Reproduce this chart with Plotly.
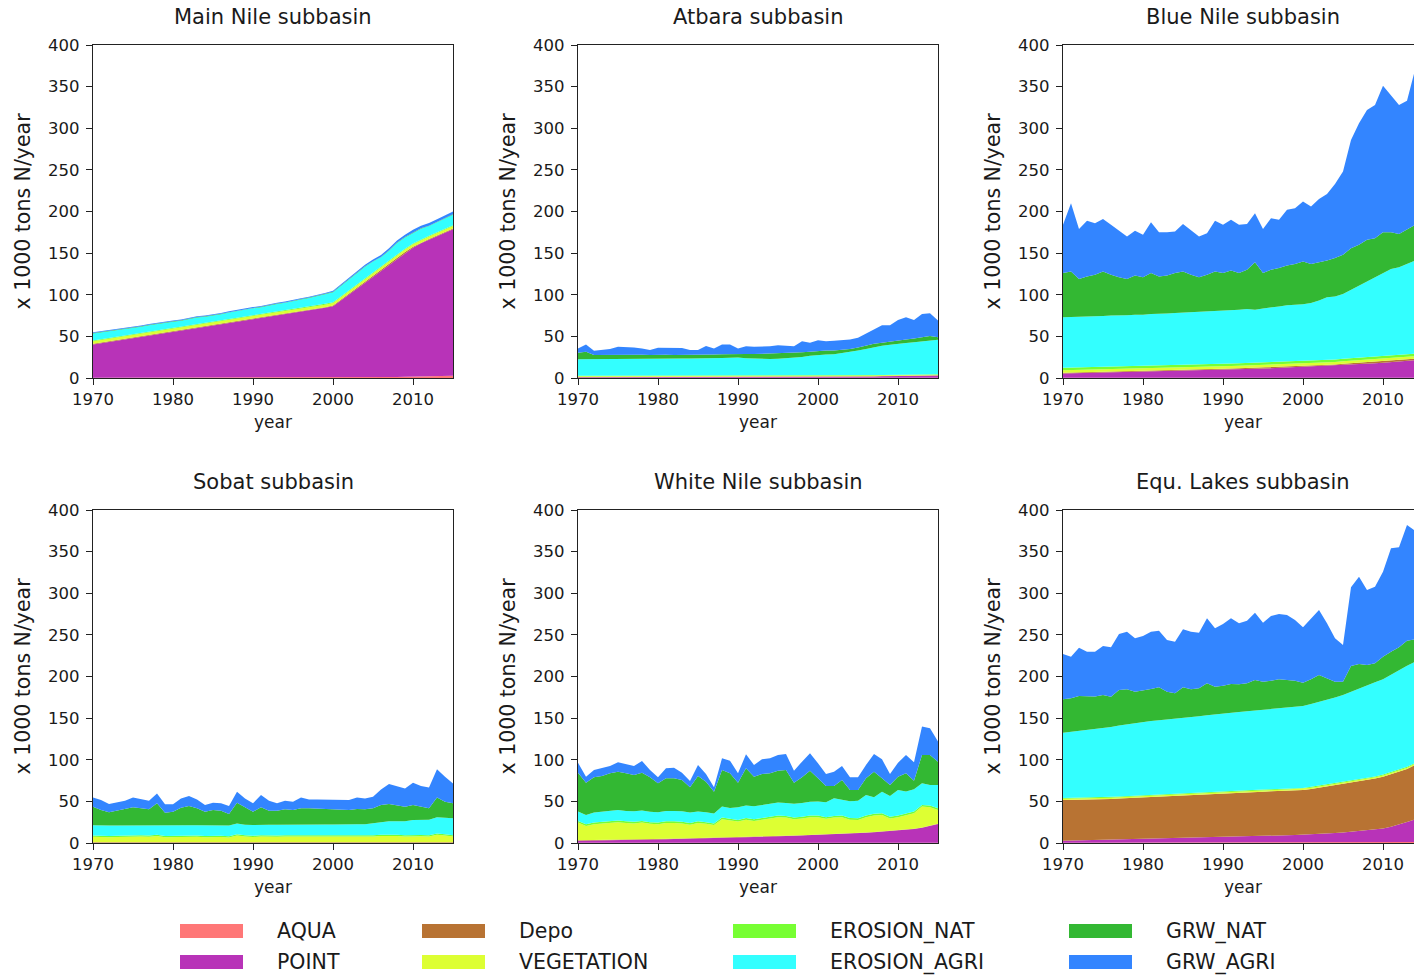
import plotly.graph_objects as go

YEARS = list(range(1970, 2016))
LAYERS = ["AQUA", "POINT", "Depo", "VEGETATION", "EROSION_NAT", "EROSION_AGRI", "GRW_NAT", "GRW_AGRI"]
COLORS = ["#ff7777", "#b833b8", "#b87333", "#ddff33", "#77ff33", "#33ffff", "#33b833", "#3385ff"]
TITLES = ["Main Nile subbasin", "Atbara subbasin", "Blue Nile subbasin",
          "Sobat subbasin", "White Nile subbasin", "Equ. Lakes subbasin"]
Y_TICKS = [0, 50, 100, 150, 200, 250, 300, 350, 400]
X_TICKS = [1970, 1980, 1990, 2000, 2010]

# ---------------- Main Nile ----------------
MN_AQUA = [0.3, 0.3, 0.3, 0.3, 0.3, 0.3, 0.3, 0.3, 0.3, 0.3, 0.3, 0.3, 0.3, 0.3, 0.3, 0.3, 0.3, 0.3, 0.3, 0.3,
           0.3, 0.3, 0.3, 0.3, 0.3, 0.3, 0.3, 0.3, 0.3, 0.3, 0.3, 0.4, 0.5, 0.6, 0.7, 0.8, 0.9, 1.0, 1.2, 1.4,
           1.6, 1.8, 2.0, 2.2, 2.4, 2.6]
MN_POINT = [40, 41.5, 43, 44.5, 46, 47.5, 49, 50.5, 52, 53.5, 55, 56.5, 58, 59.5, 61, 62.5, 64, 65.5, 67, 68.5,
            70, 71.5, 73, 74.5, 76, 77.5, 79, 80.5, 82, 84, 86, 93, 100, 107, 114, 121, 128, 135, 142, 149,
            155, 160, 164, 168, 172, 176]
MN_DEPO = [0.8, 0.8, 0.8, 0.8, 0.8, 0.8, 0.8, 0.8, 0.8, 0.8, 0.8, 0.8, 0.8, 0.8, 0.8, 0.8, 0.8, 0.8, 0.8, 0.8,
           0.8, 0.8, 0.8, 0.8, 0.8, 0.8, 0.8, 0.8, 0.8, 0.8, 0.8, 0.9, 0.9, 0.9, 0.9, 1.0, 1.0, 1.0, 1.0, 1.0,
           1.0, 1.0, 1.0, 1.0, 1.0, 1.0]
MN_VEG = [3.0, 3.0, 3.0, 3.0, 3.0, 3.0, 3.0, 3.0, 3.0, 3.0, 3.0, 3.0, 3.0, 3.0, 3.0, 3.0, 3.0, 3.0, 3.0, 3.0,
          3.0, 3.0, 3.0, 3.0, 3.0, 3.0, 3.0, 3.0, 3.0, 3.0, 3.0, 3.0, 3.0, 3.0, 3.0, 3.0, 3.0, 3.0, 3.0, 3.0,
          3.0, 3.0, 3.0, 3.0, 3.0, 3.0]
MN_ENAT = [1.0, 1.0, 1.0, 1.0, 1.0, 1.0, 1.0, 1.0, 1.0, 1.0, 1.0, 1.0, 1.0, 1.0, 1.0, 1.0, 1.0, 1.0, 1.0, 1.0,
           1.0, 1.0, 1.0, 1.0, 1.0, 1.0, 1.0, 1.0, 1.0, 1.0, 1.0, 1.0, 1.0, 1.0, 1.0, 1.0, 1.0, 1.0, 1.0, 1.0,
           1.0, 1.0, 1.0, 1.0, 1.0, 1.0]
MN_EAGRI = [8.5, 8.3, 8.0, 7.8, 7.5, 7.3, 7.5, 7.8, 8.0, 7.6, 7.5, 7.3, 7.8, 8.2, 7.5, 7.2, 7.6, 8.0, 8.4, 8.2,
            8.6, 8.4, 9.0, 9.4, 9.2, 10.0, 10.2, 10.5, 10.8, 11.5, 12.0, 12.5, 12.5, 13.5, 14.0, 13.0, 11.0, 12.0,
            14.0, 13.5, 13.0, 12.5, 11.5, 12.0, 12.5, 12.5]
MN_GNAT = [0.5, 0.5, 0.5, 0.5, 0.5, 0.5, 0.5, 0.5, 0.5, 0.5, 0.5, 0.5, 0.5, 0.5, 0.5, 0.5, 0.5, 0.5, 0.5, 0.5,
           0.5, 0.5, 0.5, 0.5, 0.5, 0.5, 0.5, 0.5, 0.5, 0.5, 0.5, 0.5, 0.5, 0.5, 0.5, 0.5, 0.5, 0.5, 0.5, 0.5,
           0.5, 0.5, 0.5, 0.5, 0.5, 0.5]
MN_GAGRI = [1.0, 1.0, 1.0, 1.0, 1.0, 1.0, 1.0, 1.0, 1.0, 1.0, 1.0, 1.0, 1.0, 1.0, 1.0, 1.0, 1.0, 1.0, 1.0, 1.0,
            1.0, 1.0, 1.0, 1.0, 1.0, 1.0, 1.0, 1.0, 1.0, 1.0, 1.2, 1.5, 1.5, 1.8, 2.0, 2.0, 2.2, 2.5, 2.5, 2.8,
            3.0, 3.0, 3.2, 3.0, 3.5, 3.5]

# ---------------- Atbara ----------------
AT_AQUA = [0.2, 0.2, 0.2, 0.2, 0.2, 0.2, 0.2, 0.2, 0.2, 0.2, 0.2, 0.2, 0.2, 0.2, 0.2, 0.2, 0.2, 0.2, 0.2, 0.2,
           0.2, 0.2, 0.2, 0.2, 0.2, 0.2, 0.2, 0.2, 0.2, 0.2, 0.2, 0.2, 0.2, 0.2, 0.2, 0.2, 0.2, 0.2, 0.2, 0.2,
           0.2, 0.2, 0.2, 0.2, 0.2, 0.2]
AT_POINT = [0.8, 0.8, 0.8, 0.8, 0.8, 0.8, 0.8, 0.8, 0.8, 0.8, 0.8, 0.8, 0.8, 0.8, 0.8, 0.8, 0.8, 0.8, 0.8, 0.8,
            1.0, 1.0, 1.0, 1.0, 1.0, 1.0, 1.0, 1.0, 1.0, 1.0, 1.0, 1.0, 1.0, 1.0, 1.0, 1.3, 1.5, 1.7, 1.9, 2.0,
            2.2, 2.3, 2.4, 2.5, 2.6, 2.7]
AT_DEPO = [0.3, 0.3, 0.3, 0.3, 0.3, 0.3, 0.3, 0.3, 0.3, 0.3, 0.3, 0.3, 0.3, 0.3, 0.3, 0.3, 0.3, 0.3, 0.3, 0.3,
           0.3, 0.3, 0.3, 0.3, 0.3, 0.3, 0.3, 0.3, 0.3, 0.3, 0.3, 0.3, 0.3, 0.3, 0.3, 0.3, 0.3, 0.3, 0.3, 0.3,
           0.3, 0.3, 0.3, 0.3, 0.3, 0.3]
AT_VEG = [0.8, 0.8, 0.8, 0.8, 0.8, 0.8, 0.8, 0.8, 0.8, 0.8, 0.8, 0.8, 0.8, 0.8, 0.8, 0.8, 0.8, 0.8, 0.8, 0.8,
          0.8, 0.8, 0.8, 0.8, 0.8, 0.8, 0.8, 0.8, 0.8, 0.8, 0.8, 0.8, 0.8, 0.8, 0.8, 0.8, 0.8, 0.8, 0.8, 0.8,
          0.8, 0.8, 0.8, 0.8, 0.8, 0.8]
AT_ENAT = [0.5, 0.5, 0.5, 0.5, 0.5, 0.5, 0.5, 0.5, 0.5, 0.5, 0.5, 0.5, 0.5, 0.5, 0.5, 0.5, 0.5, 0.5, 0.5, 0.5,
           0.5, 0.5, 0.5, 0.5, 0.5, 0.5, 0.5, 0.5, 0.5, 0.5, 0.5, 0.5, 0.5, 0.5, 0.5, 0.5, 0.5, 0.5, 0.5, 0.5,
           0.5, 0.5, 0.5, 0.5, 0.5, 0.5]
AT_EAGRI = [19.8, 19.8, 19.9, 20.0, 20.0, 20.2, 20.2, 20.3, 20.3, 20.4, 20.5, 20.5, 20.6, 20.7, 20.8, 20.8, 21.0,
            21.2, 21.5, 21.8, 21.8, 21.0, 20.5, 19.8, 19.9, 20.2, 20.8, 21.5, 22.5, 23.8, 25.0, 25.3, 25.8, 27.0,
            28.5, 30.0, 31.5, 33.5, 35.0, 36.0, 37.2, 38.0, 38.8, 39.8, 41.0, 41.3]
AT_GNAT = [8, 9, 5, 5, 5, 5.5, 5.5, 5.2, 5, 4.5, 4.8, 4.8, 4.5, 4.5, 4.2, 4.0, 4.5, 4.3, 4.5, 4.5,
           4.0, 5.0, 5.5, 6.5, 6.5, 6.2, 6.0, 5.5, 5.5, 5.0, 5.0, 5.0, 4.5, 4.0, 3.5, 3.5, 4.0, 4.0, 3.5, 4.0,
           4.0, 4.2, 4.5, 4.8, 5.0, 3.0]
AT_GAGRI = [5.1, 8.9, 5.2, 5.9, 7.1, 9.2, 9.2, 8.6, 7.6, 6.0, 8.4, 8.4, 7.8, 8.1, 5.9, 6.1, 10.2, 7.4, 11.7, 11.4,
            6.8, 9.4, 8.6, 8.3, 9.0, 10.2, 9.0, 8.4, 13.4, 10.6, 12.6, 11.1, 11.5, 11.6, 11.4, 11.8, 14.5, 17.2,
            21.3, 19.7, 24.5, 26.6, 22.3, 28.1, 27.5, 20.3]

# ---------------- Blue Nile ----------------
BN_AQUA = [0.3, 0.3, 0.3, 0.3, 0.3, 0.3, 0.3, 0.3, 0.3, 0.3, 0.3, 0.3, 0.3, 0.3, 0.3, 0.3, 0.3, 0.3, 0.3, 0.3,
           0.3, 0.3, 0.3, 0.3, 0.3, 0.3, 0.3, 0.3, 0.3, 0.3, 0.3, 0.3, 0.3, 0.3, 0.3, 0.3, 0.3, 0.3, 0.3, 0.3,
           0.3, 0.3, 0.3, 0.3, 0.3, 0.3]
BN_POINT = [5.0, 5.2, 5.4, 5.6, 5.8, 6.0, 6.2, 6.4, 6.6, 6.8, 7.0, 7.2, 7.4, 7.6, 7.8, 8.0, 8.3, 8.6, 8.9, 9.2,
            9.5, 9.8, 10.1, 10.4, 10.7, 11.0, 11.4, 11.8, 12.2, 12.6, 13.0, 13.4, 13.8, 14.2, 14.6, 15.0, 15.6,
            16.2, 16.8, 17.4, 18.0, 18.8, 19.6, 20.4, 21.2, 22.0]
BN_DEPO = [1.0, 1.0, 1.0, 1.0, 1.0, 1.0, 1.0, 1.0, 1.0, 1.0, 1.0, 1.0, 1.0, 1.0, 1.0, 1.0, 1.0, 1.0, 1.0, 1.0,
           1.3, 1.3, 1.3, 1.3, 1.3, 1.3, 1.3, 1.3, 1.3, 1.3, 1.3, 1.3, 1.3, 1.3, 1.3, 1.7, 1.7, 1.7, 1.7, 1.7,
           1.7, 1.7, 1.7, 1.7, 1.7, 1.7]
BN_VEG = [3.0, 3.0, 3.0, 3.0, 3.0, 3.0, 3.0, 3.0, 3.0, 3.0, 3.0, 3.0, 3.0, 3.0, 3.0, 3.0, 3.0, 3.0, 3.0, 3.0,
          3.0, 3.0, 3.0, 3.0, 3.0, 3.0, 3.0, 3.0, 3.0, 3.0, 3.0, 3.0, 3.0, 3.0, 3.0, 3.0, 3.0, 3.0, 3.0, 3.0,
          3.0, 3.0, 3.0, 3.0, 3.0, 3.0]
BN_ENAT = [3.0, 3.0, 3.0, 3.0, 3.0, 3.0, 3.0, 3.0, 3.0, 3.0, 3.0, 3.0, 3.0, 3.0, 3.0, 3.0, 3.0, 3.0, 3.0, 3.0,
           3.0, 3.0, 3.0, 3.0, 3.0, 3.0, 3.0, 3.0, 3.0, 3.0, 3.0, 3.0, 3.0, 3.0, 3.0, 3.0, 3.0, 3.0, 3.0, 3.0,
           3.0, 3.0, 3.0, 3.0, 3.0, 3.0]
BN_EAGRI = [60.7, 60.5, 60.8, 61.1, 60.9, 61.2, 61.5, 61.3, 61.6, 61.9, 61.7, 62.5, 62.3, 62.6, 62.9, 63.2, 62.9,
            63.1, 63.3, 63.5, 63.4, 63.6, 64.3, 65.0, 63.7, 64.9, 65.5, 66.6, 67.7, 67.8, 67.9, 69.0, 71.6, 75.2,
            75.8, 78.0, 82.4, 86.8, 91.2, 95.6, 101.0, 104.2, 105.4, 108.6, 111.8, 115.0]
BN_GNAT = [53, 55, 45.5, 48, 50, 53.5, 49, 46, 43.5, 47, 45, 49, 45, 45.5, 48, 49.5, 45.5, 42, 44.5, 48,
           45.5, 48, 44, 47, 57, 42.5, 45.5, 46, 47.5, 49, 51.5, 47, 46, 44, 46, 47, 50, 49, 50, 47,
           48, 44, 40, 42, 43, 41]
BN_GAGRI = [58, 82, 60, 67, 62, 63, 60, 56, 51, 54, 51, 61, 53, 52, 50, 57, 53, 49, 50, 61,
            58, 61, 58, 55, 59, 53, 62, 58, 67, 67, 72, 69, 76, 80, 89, 100, 130, 146, 156, 160,
            176, 165, 155, 154, 186, 174]

# ---------------- Sobat ----------------
SO_AQUA = [0.1, 0.1, 0.1, 0.1, 0.1, 0.1, 0.1, 0.1, 0.1, 0.1, 0.1, 0.1, 0.1, 0.1, 0.1, 0.1, 0.1, 0.1, 0.1, 0.1,
           0.1, 0.1, 0.1, 0.1, 0.1, 0.1, 0.1, 0.1, 0.1, 0.1, 0.1, 0.1, 0.1, 0.1, 0.1, 0.1, 0.1, 0.1, 0.1, 0.1,
           0.1, 0.1, 0.1, 0.1, 0.1, 0.1]
SO_POINT = [0.3, 0.3, 0.3, 0.3, 0.3, 0.3, 0.3, 0.3, 0.3, 0.3, 0.3, 0.3, 0.3, 0.3, 0.3, 0.3, 0.3, 0.3, 0.3, 0.3,
            0.3, 0.3, 0.3, 0.3, 0.3, 0.3, 0.3, 0.3, 0.3, 0.3, 0.3, 0.3, 0.3, 0.3, 0.3, 0.3, 0.3, 0.3, 0.3, 0.3,
            0.3, 0.3, 0.3, 0.3, 0.3, 0.3]
SO_DEPO = [0.5, 0.5, 0.5, 0.5, 0.5, 0.5, 0.5, 0.5, 0.5, 0.5, 0.5, 0.5, 0.5, 0.5, 0.5, 0.5, 0.5, 0.5, 0.5, 0.5,
           0.5, 0.5, 0.5, 0.5, 0.5, 0.5, 0.5, 0.5, 0.5, 0.5, 0.5, 0.5, 0.5, 0.5, 0.5, 0.5, 0.5, 0.5, 0.5, 0.5,
           0.5, 0.5, 0.5, 0.5, 0.5, 0.5]
SO_VEG = [6.5, 6.0, 6.0, 6.3, 6.5, 7.0, 6.8, 6.5, 7.5, 6.0, 6.2, 6.8, 7.0, 6.5, 6.0, 6.3, 6.2, 5.8, 8.0, 7.0,
          6.3, 7.0, 6.5, 6.5, 6.8, 6.5, 6.8, 6.8, 6.8, 6.8, 6.8, 6.5, 6.5, 6.8, 6.8, 7.0, 7.5, 7.8, 7.5, 7.0,
          7.5, 7.3, 7.0, 9.0, 8.0, 7.0]
SO_ENAT = [1.5, 1.5, 1.5, 1.5, 1.5, 1.5, 1.5, 1.5, 1.5, 1.5, 1.5, 1.5, 1.5, 1.5, 1.5, 1.5, 1.5, 1.5, 1.5, 1.5,
           1.5, 1.5, 1.5, 1.5, 1.5, 1.5, 1.5, 1.5, 1.5, 1.5, 1.5, 1.5, 1.5, 1.5, 1.5, 1.5, 1.5, 1.5, 1.5, 1.5,
           1.5, 1.5, 1.5, 1.5, 1.5, 1.5]
SO_EAGRI = [12.5, 12.6, 12.6, 12.4, 12.3, 12.0, 12.1, 12.4, 12.0, 12.8, 12.7, 12.2, 12.0, 12.5, 12.8, 12.6, 12.7,
            12.9, 13.1, 12.6, 13.0, 12.8, 13.0, 13.0, 12.9, 13.1, 13.0, 13.0, 13.1, 13.1, 13.1, 13.2, 13.3, 13.2,
            13.3, 14.2, 15.1, 15.8, 16.1, 16.6, 17.7, 18.3, 18.6, 19.6, 19.6, 20.2]
SO_GNAT = [22.2, 18.6, 15.8, 17.7, 19.2, 21.4, 20.3, 19.1, 25.7, 15.2, 16.3, 21.0, 23.0, 20.2, 16.4, 18.3, 17.5,
           13.7, 24.9, 20.8, 15.9, 20.6, 16.9, 16.9, 18.3, 17.6, 19.4, 19.4, 18.9, 18.5, 18.1, 17.5, 17.4, 18.4,
           17.9, 18.0, 20.6, 20.8, 19.6, 17.6, 18.0, 15.6, 13.6, 23.8, 19.6, 18.0]
SO_GAGRI = [11.2, 12.0, 10.0, 10.0, 10.4, 12.0, 10.8, 10.4, 12.0, 10.0, 8.8, 11.2, 12.0, 10.8, 8.0, 8.8, 8.8, 9.6,
            13.2, 10.8, 10.0, 14.8, 12.0, 8.8, 10.4, 10.0, 13.2, 10.8, 11.2, 11.6, 12.0, 12.0, 12.0, 14.0, 13.2,
            14.0, 18.8, 24.0, 22.8, 22.0, 26.8, 24.8, 25.2, 33.7, 30.1, 24.0]

# ---------------- White Nile ----------------
WN_AQUA = [0.2, 0.2, 0.2, 0.2, 0.2, 0.2, 0.2, 0.2, 0.2, 0.2, 0.2, 0.2, 0.2, 0.2, 0.2, 0.2, 0.2, 0.2, 0.2, 0.2,
           0.2, 0.2, 0.2, 0.2, 0.2, 0.2, 0.2, 0.2, 0.2, 0.2, 0.2, 0.2, 0.2, 0.2, 0.2, 0.2, 0.2, 0.2, 0.2, 0.2,
           0.2, 0.2, 0.2, 0.2, 0.2, 0.2]
WN_POINT = [2.5, 2.6, 2.8, 2.9, 3.0, 3.2, 3.4, 3.6, 3.8, 4.0, 4.2, 4.4, 4.6, 4.8, 5.0, 5.2, 5.4, 5.6, 5.8, 6.0,
            6.3, 6.6, 6.9, 7.2, 7.5, 7.8, 8.1, 8.4, 8.7, 9.0, 9.4, 9.8, 10.2, 10.6, 11.0, 11.5, 12.0, 12.6, 13.2,
            13.8, 14.5, 15.2, 16.5, 18.0, 20.0, 22.5]
WN_DEPO = [0.5, 0.5, 0.5, 0.5, 0.5, 0.5, 0.5, 0.5, 0.5, 0.5, 0.5, 0.5, 0.5, 0.5, 0.5, 0.5, 0.5, 0.5, 0.5, 0.5,
           0.5, 0.5, 0.5, 0.5, 0.5, 0.5, 0.5, 0.5, 0.5, 0.5, 0.5, 0.5, 0.5, 0.5, 0.5, 0.5, 0.5, 0.5, 0.5, 0.5,
           0.5, 0.5, 0.5, 0.5, 0.5, 0.5]
WN_VEG = [21.3, 17.2, 19.0, 19.9, 20.3, 21.0, 19.9, 19.2, 20.0, 18.3, 17.6, 18.9, 18.7, 18.0, 16.3, 18.1, 16.9,
          15.2, 22.0, 20.3, 18.7, 20.7, 18.9, 20.1, 20.8, 22.4, 21.7, 19.4, 20.1, 21.3, 20.8, 18.5, 19.6, 19.7,
          16.3, 15.5, 18.3, 19.7, 19.8, 15.0, 15.7, 17.1, 18.5, 25.0, 22.3, 16.5]
WN_ENAT = [2.0, 2.0, 2.0, 2.0, 2.0, 2.0, 2.0, 2.0, 2.0, 2.0, 2.0, 2.0, 2.0, 2.0, 2.0, 2.0, 2.0, 2.0, 2.0, 2.0,
           2.0, 2.0, 2.0, 2.0, 2.0, 2.0, 2.0, 2.0, 2.0, 2.0, 2.0, 2.0, 2.0, 2.0, 2.0, 2.0, 2.0, 2.0, 2.0, 2.0,
           2.0, 2.0, 2.0, 2.0, 2.0, 2.0]
WN_EAGRI = [11.2, 11.2, 12.0, 12.0, 12.5, 12.8, 12.5, 12.5, 12.5, 12.5, 12.5, 12.5, 12.5, 12.5, 12.5, 11.7, 12.0,
            12.0, 13.2, 13.0, 15.2, 15.0, 15.5, 15.5, 15.5, 15.6, 15.5, 16.5, 16.5, 16.5, 16.8, 18.0, 21.2, 19.0,
            20.0, 21.2, 24.7, 20.0, 26.0, 25.0, 30.8, 27.0, 26.8, 26.0, 24.7, 28.0]
WN_GNAT = [46.8, 38.8, 42.4, 43.0, 45.2, 46.0, 45.2, 43.7, 45.5, 41.4, 34.7, 39.2, 39.2, 37.7, 30.4, 42.8, 36.7,
           26.2, 44.0, 41.7, 29.6, 44.7, 35.7, 37.4, 37.2, 38.4, 39.7, 25.5, 30.9, 37.4, 28.0, 19.5, 14.8, 23.7,
           13.7, 12.8, 20.0, 30.7, 16.0, 13.2, 16.0, 21.7, 10.4, 34.0, 36.0, 28.0]
WN_GAGRI = [12.0, 7.2, 8.8, 9.2, 8.8, 11.2, 10.8, 10.8, 14.0, 8.8, 7.2, 12.0, 12.8, 8.8, 7.6, 13.2, 9.2, 5.2, 14.0,
            15.2, 11.2, 16.8, 14.0, 17.6, 18.0, 18.8, 19.2, 14.4, 18.8, 20.8, 18.0, 14.4, 17.2, 16.8, 15.2, 15.2,
            16.0, 21.2, 22.8, 13.2, 16.8, 22.0, 22.0, 34.1, 32.1, 24.1]

# ---------------- Equatorial Lakes ----------------
EL_AQUA = [0.3, 0.3, 0.3, 0.3, 0.3, 0.3, 0.3, 0.3, 0.3, 0.3, 0.3, 0.3, 0.3, 0.3, 0.3, 0.3, 0.3, 0.3, 0.3, 0.3,
           0.3, 0.3, 0.3, 0.3, 0.3, 0.3, 0.3, 0.3, 0.3, 0.3, 0.3, 0.3, 0.3, 0.3, 0.3, 0.3, 0.4, 0.5, 0.6, 0.7,
           0.8, 0.9, 1.0, 1.2, 1.3, 1.5]
EL_POINT = [2.5, 2.7, 2.9, 3.1, 3.3, 3.5, 3.7, 3.9, 4.1, 4.3, 4.5, 4.7, 4.9, 5.1, 5.3, 5.5, 5.7, 5.9, 6.1, 6.3,
            6.6, 6.9, 7.2, 7.5, 7.8, 8.1, 8.4, 8.7, 9.0, 9.3, 9.6, 10.0, 10.5, 11.0, 11.6, 12.2, 12.9, 13.6, 14.4,
            15.4, 16.5, 18.5, 21.0, 24.0, 27.0, 29.0]
EL_DEPO = [48.9, 48.8, 48.7, 48.6, 48.6, 48.7, 49.0, 49.3, 49.6, 49.8, 50.0, 50.2, 50.4, 50.6, 50.9, 51.2, 51.5,
           51.8, 52.2, 52.6, 52.8, 52.9, 53.0, 53.1, 53.2, 53.3, 53.4, 53.5, 53.6, 53.7, 53.8, 54.7, 55.7, 56.7,
           57.6, 58.4, 59.2, 59.9, 60.8, 61.4, 62.4, 63.1, 63.5, 63.8, 65.4, 65.5]
EL_VEG = [1.5, 1.5, 1.5, 1.5, 1.5, 1.5, 1.5, 1.5, 1.5, 1.5, 1.5, 1.5, 1.5, 1.5, 1.5, 1.5, 1.5, 1.5, 1.5, 1.5,
          1.5, 1.5, 1.5, 1.5, 1.5, 1.5, 1.5, 1.5, 1.5, 1.5, 1.5, 1.5, 1.5, 1.5, 1.5, 1.5, 1.5, 1.5, 1.5, 1.5,
          1.5, 1.5, 1.5, 1.5, 1.5, 1.5]
EL_ENAT = [1.0, 1.0, 1.0, 1.0, 1.0, 1.0, 1.0, 1.0, 1.0, 1.0, 1.0, 1.0, 1.0, 1.0, 1.0, 1.0, 1.0, 1.0, 1.0, 1.0,
           1.0, 1.0, 1.0, 1.0, 1.0, 1.0, 1.0, 1.0, 1.0, 1.0, 1.0, 1.0, 1.0, 1.0, 1.0, 1.0, 1.0, 1.0, 1.0, 1.0,
           1.0, 1.0, 1.0, 1.0, 1.0, 1.0]
EL_EAGRI = [78.3, 79.2, 80.1, 81.0, 81.8, 82.7, 83.8, 85.0, 86.1, 87.3, 88.5, 88.9, 89.3, 89.7, 90.0, 90.3, 91.0,
            91.7, 92.3, 92.9, 93.6, 94.0, 94.4, 94.8, 95.2, 95.6, 96.2, 96.7, 97.3, 97.8, 98.4, 99.5, 100.4, 101.3,
            102.8, 104.4, 106.8, 109.3, 111.5, 113.2, 114.4, 117.2, 119.8, 121.3, 121.6, 123.5]
EL_GNAT = [40.1, 40.3, 42.1, 40.5, 39.5, 40.1, 36.5, 42.8, 42.0, 37.6, 37.2, 38.4, 39.6, 33.6, 30.8, 37.2, 33.6,
           33.6, 38.4, 33.2, 33.2, 34.4, 33.2, 33.6, 36.8, 34.0, 34.2, 34.9, 33.1, 31.4, 28.0, 29.6, 32.4, 26.0,
           19.0, 16.0, 30.8, 29.2, 24.0, 22.6, 27.2, 27.6, 27.2, 30.2, 26.8, 28.0]
EL_GAGRI = [54.4, 50.0, 58.0, 53.8, 53.8, 58.8, 59.2, 67.2, 69.3, 64.1, 65.7, 68.9, 68.1, 62.0, 62.0, 69.7, 69.3,
            66.9, 78.1, 70.1, 74.1, 78.9, 73.3, 75.3, 80.9, 70.9, 77.7, 78.5, 78.1, 72.9, 66.5, 73.3, 78.1, 66.1,
            52.1, 44.0, 94.5, 104.9, 90.1, 92.1, 102.1, 124.2, 120.2, 139.0, 130.6, 125.0]

PANEL_SERIES = [
    [MN_AQUA, MN_POINT, MN_DEPO, MN_VEG, MN_ENAT, MN_EAGRI, MN_GNAT, MN_GAGRI],
    [AT_AQUA, AT_POINT, AT_DEPO, AT_VEG, AT_ENAT, AT_EAGRI, AT_GNAT, AT_GAGRI],
    [BN_AQUA, BN_POINT, BN_DEPO, BN_VEG, BN_ENAT, BN_EAGRI, BN_GNAT, BN_GAGRI],
    [SO_AQUA, SO_POINT, SO_DEPO, SO_VEG, SO_ENAT, SO_EAGRI, SO_GNAT, SO_GAGRI],
    [WN_AQUA, WN_POINT, WN_DEPO, WN_VEG, WN_ENAT, WN_EAGRI, WN_GNAT, WN_GAGRI],
    [EL_AQUA, EL_POINT, EL_DEPO, EL_VEG, EL_ENAT, EL_EAGRI, EL_GNAT, EL_GAGRI],
]

# ---------------- layout geometry (pixels) ----------------
W, H = 1414, 977
COL_PX = [(93, 453), (578, 938), (1063, 1423)]
ROW_PX = [(45, 378), (510, 843)]
TXT = "#1a1a1a"
FONT = "DejaVu Sans"
X_MIN, X_MAX = 1970, 2015

fig = go.Figure()
annotations = []
shapes = []

for k, (title, series) in enumerate(zip(TITLES, PANEL_SERIES)):
    r, c = divmod(k, 3)
    n = k + 1
    xa = "x" if n == 1 else f"x{n}"
    ya = "y" if n == 1 else f"y{n}"
    for name, color, vals in zip(LAYERS, COLORS, series):
        fig.add_trace(go.Scatter(
            x=YEARS, y=vals, name=name, mode="lines", stackgroup=f"g{k}",
            line=dict(width=0, color=color), fillcolor=color,
            showlegend=False, xaxis=xa, yaxis=ya))
    x0, x1 = COL_PX[c]
    y0, y1 = ROW_PX[r]
    x1v = min(x1, W)
    x_end = X_MIN + (X_MAX - X_MIN) * (x1v - x0) / (x1 - x0)
    common = dict(showline=True, linecolor="#222", linewidth=1.2, ticks="outside", ticklen=6,
                  tickwidth=1.2, tickcolor="#222", showgrid=False, zeroline=False,
                  tickfont=dict(family=FONT, size=16.5, color=TXT), automargin=False)
    fig.layout["xaxis" + ("" if n == 1 else str(n))] = dict(
        domain=[x0 / W, x1v / W], range=[X_MIN, x_end], anchor=ya,
        tickvals=X_TICKS, mirror=True, **common)
    fig.layout["yaxis" + ("" if n == 1 else str(n))] = dict(
        domain=[1 - y1 / H, 1 - y0 / H], range=[0, 400], anchor=xa,
        tickvals=Y_TICKS, mirror=(x1 <= W), ticklabelstandoff=3, **common)
    cx = (x0 + x1) / 2
    annotations.append(dict(text=title, x=cx / W, y=1 - (y0 - 28) / H, xref="paper", yref="paper",
                            showarrow=False, xanchor="center", yanchor="middle",
                            font=dict(family=FONT, size=21, color=TXT)))
    annotations.append(dict(text="year", x=cx / W, y=1 - (y1 + 44) / H, xref="paper", yref="paper",
                            showarrow=False, xanchor="center", yanchor="middle",
                            font=dict(family=FONT, size=17, color=TXT)))
    annotations.append(dict(text="x 1000 tons N/year", x=(x0 - 71) / W, y=1 - (y0 + y1) / 2 / H,
                            xref="paper", yref="paper", showarrow=False, textangle=-90,
                            xanchor="center", yanchor="middle",
                            font=dict(family=FONT, size=20.5, color=TXT)))

# ---------------- legend (4 columns x 2 rows) ----------------
LEG_PATCH_X = [180, 422, 733, 1069]
LEG_ROW_Y = [931, 962]
for i, (name, color) in enumerate(zip(LAYERS, COLORS)):
    col, row = divmod(i, 2)
    px = LEG_PATCH_X[col]
    py = LEG_ROW_Y[row]
    shapes.append(dict(type="rect", xref="paper", yref="paper",
                       x0=px / W, x1=(px + 63) / W, y0=1 - (py + 7) / H, y1=1 - (py - 7) / H,
                       fillcolor=color, line=dict(width=0)))
    annotations.append(dict(text=name, x=(px + 95) / W, y=1 - py / H, xref="paper", yref="paper",
                            showarrow=False, xanchor="left", yanchor="middle",
                            font=dict(family=FONT, size=20.5, color=TXT)))

fig.update_layout(width=W, height=H, margin=dict(l=0, r=0, t=0, b=0),
                  paper_bgcolor="white", plot_bgcolor="white",
                  annotations=annotations, shapes=shapes, showlegend=False)

# remove the browser's default page margin so the figure starts at the window corner
fig.write_html("out.html", config={"displayModeBar": False},
               post_script="document.body.style.margin='0';")
